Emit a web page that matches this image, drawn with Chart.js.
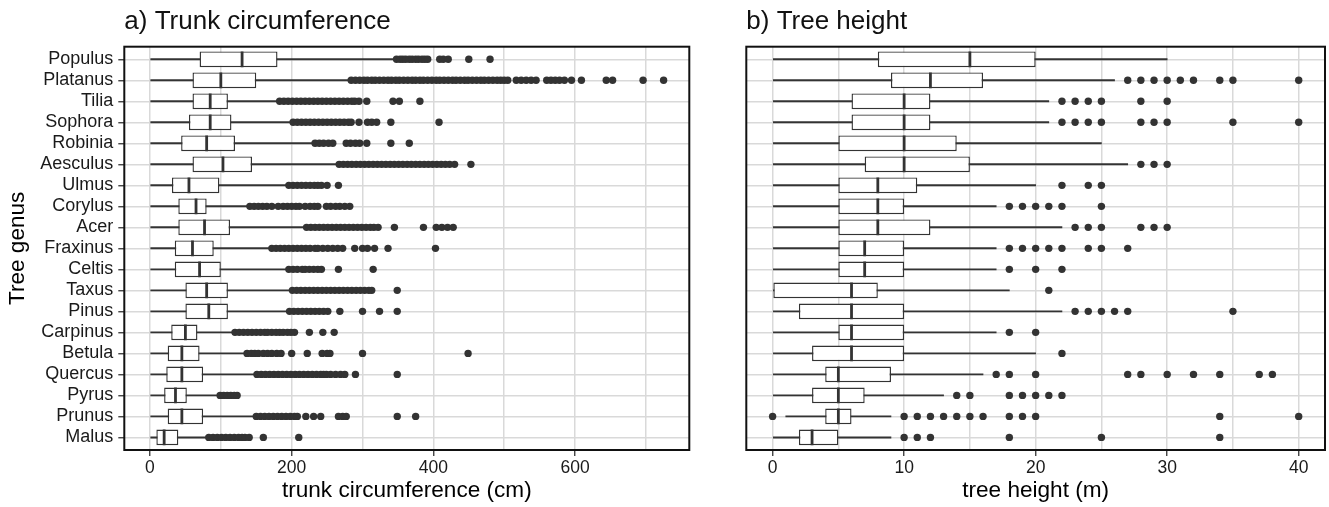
<!DOCTYPE html>
<html>
<head>
<meta charset="utf-8">
<script src="https://cdn.jsdelivr.net/npm/chart.js@4.4.1/dist/chart.umd.min.js"></script>
<style>
  html, body { margin: 0; padding: 0; background: #fff; }
  body { width: 1329px; height: 507px; position: relative; overflow: hidden; }
  .panel { position: absolute; top: 0; height: 507px; }
  #left { left: 0; width: 700px; }
  #right { left: 700px; width: 629px; }
</style>
</head>
<body>
<div class="panel" id="left"><canvas id="trunk"></canvas></div>
<div class="panel" id="right"><canvas id="height"></canvas></div>
<script>
// genera, top to bottom
const genera = ['Populus', 'Platanus', 'Tilia', 'Sophora', 'Robinia', 'Aesculus', 'Ulmus', 'Corylus', 'Acer',
  'Fraxinus', 'Celtis', 'Taxus', 'Pinus', 'Carpinus', 'Betula', 'Quercus', 'Pyrus', 'Prunus', 'Malus'];

// a) trunk circumference (cm)
const trunkTicks = [0, 200, 400, 600];
const trunkMinorTicks = [100, 300, 500, 700];
const trunkLow = [0, 0, 0, 0, 0, 0, 0, 0, 0, 0, 0, 0, 0, 0, 0, 0, 0, 0, 0];
const trunkQ1 = [70, 60, 60, 55, 44, 60, 31, 40, 40, 35, 35, 50, 50, 30, 25, 23, 20, 25, 9];
const trunkMedian = [130, 100, 85, 85, 80, 103, 55, 65, 77, 60, 70, 80, 83, 50, 45, 45, 36, 45, 20];
const trunkQ3 = [180, 150, 110, 115, 120, 144, 98, 80, 113, 90, 100, 110, 110, 67, 70, 75, 52, 75, 40];
const trunkHigh = [343, 284, 183, 202, 233, 267, 196, 141, 221, 172, 196, 201, 197, 120, 137, 151, 99, 150, 83];
const trunkOutliers = [
  [348, 353, 357, 361, 366, 370, 375, 379, 384, 388, 392, 409, 414, 421, 450, 480],
  [284, 290, 296, 302, 307, 313, 318, 324, 330, 336, 341, 347, 352, 358, 364, 370, 375, 381, 386, 392, 398, 404,
   409, 415, 421, 427, 432, 438, 444, 449, 455, 461, 467, 472, 478, 484, 490, 495, 500, 505, 517, 524, 531, 538,
   545, 560, 566, 572, 578, 585, 595, 609, 644, 653, 696, 725],
  [183, 189, 195, 201, 207, 213, 219, 225, 231, 237, 243, 249, 255, 261, 267, 273, 279, 285, 289, 295, 306, 343, 352, 381],
  [202, 208, 214, 220, 226, 232, 238, 244, 250, 256, 262, 268, 274, 280, 284, 295, 307, 313, 320, 340, 408],
  [233, 239, 245, 252, 258, 277, 283, 290, 296, 306, 340, 366],
  [267, 273, 279, 285, 291, 297, 303, 309, 315, 321, 327, 333, 339, 345, 351, 357, 363, 369, 375, 381, 387, 393,
   399, 405, 411, 417, 423, 430, 453],
  [196, 202, 208, 214, 220, 226, 232, 237, 242, 250, 266],
  [141, 147, 153, 159, 165, 172, 181, 188, 194, 200, 206, 211, 219, 226, 232, 237, 249, 255, 262, 268, 275, 282],
  [221, 227, 233, 239, 245, 251, 257, 263, 269, 275, 281, 287, 293, 299, 305, 311, 316, 322, 345, 386, 404, 412, 420, 428],
  [172, 178, 184, 190, 196, 202, 208, 214, 220, 226, 233, 237, 244, 251, 258, 265, 272, 289, 300, 307, 317, 336, 403],
  [196, 202, 208, 215, 219, 225, 231, 237, 242, 266, 315],
  [201, 207, 213, 219, 225, 231, 237, 243, 249, 255, 261, 267, 273, 279, 285, 291, 297, 303, 309, 313, 349],
  [197, 203, 209, 215, 221, 227, 233, 239, 245, 251, 268, 300, 324, 349],
  [120, 126, 132, 138, 144, 150, 156, 162, 166, 172, 178, 183, 188, 194, 199, 204, 225, 244, 260],
  [137, 143, 148, 153, 160, 166, 172, 179, 185, 200, 222, 243, 250, 254, 300, 449],
  [151, 157, 163, 169, 175, 181, 187, 193, 199, 205, 211, 217, 223, 229, 235, 241, 245, 249, 255, 262, 269, 275, 290, 349],
  [99, 104, 109, 114, 119, 123],
  [150, 156, 162, 168, 174, 180, 186, 192, 198, 204, 208, 220, 231, 241, 266, 272, 277, 349, 375],
  [83, 89, 95, 101, 107, 113, 119, 125, 130, 134, 140, 160, 210]
];

// b) tree height (m)
const heightTicks = [0, 10, 20, 30, 40];
const heightMinorTicks = [5, 15, 25, 35];
const heightLow = [0, 0, 0, 0, 0, 0, 0, 0, 0, 0, 0, 0, 0, 0, 0, 0, 0, 1, 0];
const heightQ1 = [8, 9, 6, 6, 5, 7, 5, 5, 5, 5, 5, 0, 2, 5, 3, 4, 3, 4, 2];
const heightMedian = [15, 12, 10, 10, 10, 10, 8, 8, 8, 7, 7, 6, 6, 6, 6, 5, 5, 5, 3];
const heightQ3 = [20, 16, 12, 12, 14, 15, 11, 10, 12, 10, 10, 8, 10, 10, 10, 9, 7, 6, 5];
const heightHigh = [30, 26, 21, 21, 25, 27, 20, 17, 22, 17, 17, 18, 22, 17, 20, 16, 13, 9, 9];
const heightOutliers = [
  [],
  [27, 28, 29, 30, 31, 32, 34, 35, 40],
  [22, 23, 24, 25, 28, 30],
  [22, 23, 24, 25, 28, 29, 30, 35, 40],
  [],
  [28, 29, 30],
  [22, 24, 25],
  [18, 19, 20, 21, 22, 25],
  [23, 24, 25, 28, 29, 30],
  [18, 19, 20, 21, 22, 24, 25, 27],
  [18, 20, 22],
  [21],
  [23, 24, 25, 26, 27, 35],
  [18, 20],
  [22],
  [17, 18, 20, 27, 28, 30, 32, 34, 37, 38],
  [14, 15, 18, 19, 20, 21, 22],
  [0, 10, 11, 12, 13, 14, 15, 16, 18, 19, 20, 34, 40],
  [10, 11, 12, 18, 25, 34]
];

const FONT = '"Liberation Sans", Arial, Helvetica, sans-serif';
const INK = '#333333';
const GRID = '#d9d9d9';
Chart.defaults.font.family = FONT;
Chart.defaults.color = '#1a1a1a';

// frame around the panel and the panel title at the left of the plot area
const panelFrame = {
  id: 'panelFrame',
  afterDatasetsDraw(chart, args, opts) {
    const { ctx, chartArea: a } = chart;
    ctx.save();
    ctx.strokeStyle = '#111';
    ctx.lineWidth = 2;
    ctx.strokeRect(a.left, a.top, a.right - a.left, a.bottom - a.top);
    ctx.fillStyle = '#111';
    ctx.font = '26px ' + FONT;
    ctx.textBaseline = 'alphabetic';
    ctx.textAlign = 'left';
    ctx.fillText(opts.text, a.left, a.top - 17.5);
    ctx.restore();
  }
};

function expand(values) {
  const lo = Math.min(...values), hi = Math.max(...values);
  const pad = (hi - lo) * 0.05;
  return [lo - pad, hi + pad];
}

function boxDatasets(low, q1, med, q3, high, outliers) {
  const halfBox = (ctx) => {
    const y = ctx.chart.scales.y;
    return Math.abs(y.getPixelForValue(0.375) - y.getPixelForValue(0));
  };
  const pts = [];
  outliers.forEach((row, i) => row.forEach(v => pts.push({ x: v, y: i })));
  return [
    {
      type: 'scatter', order: 0, data: pts,
      pointStyle: 'circle', pointRadius: 3.7, pointBorderWidth: 0,
      pointBackgroundColor: INK
    },
    {
      type: 'scatter', order: 1, data: med.map((v, i) => ({ x: v, y: i })),
      pointStyle: 'line', pointRotation: 90, pointRadius: halfBox,
      pointBorderWidth: 2.8, pointBorderColor: INK
    },
    {
      type: 'bar', order: 2, indexAxis: 'y', grouped: false,
      data: q1.map((v, i) => ({ y: i, x: [v, q3[i]] })),
      backgroundColor: '#ffffff', borderColor: INK, borderWidth: 1.4, borderSkipped: false,
      categoryPercentage: 0.75, barPercentage: 1
    },
    {
      type: 'bar', order: 3, indexAxis: 'y', grouped: false,
      data: low.map((v, i) => ({ y: i, x: [v, high[i]] })),
      backgroundColor: INK, borderWidth: 0, barThickness: 1.3
    }
  ];
}

function panel(canvasId, opt) {
  const [xmin, xmax] = expand(opt.range);
  const showY = opt.showY;
  const xTickValues = opt.ticks.concat(opt.minorTicks).sort((a, b) => a - b);
  const isMajor = (v) => opt.ticks.includes(v);
  new Chart(document.getElementById(canvasId), {
    type: 'bar',
    data: { datasets: boxDatasets(opt.low, opt.q1, opt.med, opt.q3, opt.high, opt.outliers) },
    options: {
      animation: false,
      responsive: true,
      maintainAspectRatio: false,
      layout: { padding: opt.padding },
      plugins: {
        legend: { display: false },
        tooltip: { enabled: false },
        panelFrame: { text: opt.title }
      },
      scales: {
        x: {
          type: 'linear', min: xmin, max: xmax, bounds: 'data', offset: false,
          afterBuildTicks: (s) => { s.ticks = xTickValues.map(v => ({ value: v })); },
          afterFit: (s) => { s.height = 57; },
          border: { display: false },
          grid: {
            offset: false,
            color: GRID,
            lineWidth: 1.5,
            tickLength: 6,
            tickWidth: 1.3,
            tickColor: (c) => (c.tick && isMajor(c.tick.value) ? INK : 'rgba(0,0,0,0)')
          },
          ticks: {
            padding: 2, font: { size: 17.5 }, color: '#1a1a1a', maxRotation: 0, autoSkip: false,
            callback: (v) => (isMajor(v) ? String(v) : '')
          },
          title: {
            display: true, text: opt.xTitle, color: '#000',
            font: { size: 22.6 }, padding: { top: 0, bottom: 2.5 }
          }
        },
        y: {
          type: 'linear', reverse: true, min: -0.6, max: genera.length - 0.4,
          bounds: 'data', offset: false, beginAtZero: false,
          afterBuildTicks: (s) => { s.ticks = genera.map((g, i) => ({ value: i })); },
          afterFit: (s) => { s.width = showY ? 124.3 : 0; },
          border: { display: false },
          grid: {
            offset: false, color: GRID, lineWidth: 1.5,
            drawTicks: showY, tickLength: 6, tickWidth: 1.3, tickColor: INK
          },
          ticks: {
            display: showY, padding: 5, autoSkip: false,
            font: { size: 18 }, color: '#1a1a1a',
            callback: (v) => genera[v]
          },
          title: {
            display: showY, text: 'Tree genus', color: '#000',
            font: { size: 22.6 }, padding: { top: 4.6, bottom: 0 }
          }
        }
      }
    },
    plugins: [panelFrame]
  });
}

panel('trunk', {
  title: 'a) Trunk circumference', xTitle: 'trunk circumference (cm)', showY: true,
  low: trunkLow, q1: trunkQ1, med: trunkMedian, q3: trunkQ3, high: trunkHigh, outliers: trunkOutliers,
  range: trunkLow.concat(trunkHigh, trunkOutliers.flat()),
  ticks: trunkTicks, minorTicks: trunkMinorTicks,
  padding: { top: 46.7, right: 10.7, bottom: 0, left: 0 }
});

panel('height', {
  title: 'b) Tree height', xTitle: 'tree height (m)', showY: false,
  low: heightLow, q1: heightQ1, med: heightMedian, q3: heightQ3, high: heightHigh, outliers: heightOutliers,
  range: heightLow.concat(heightHigh, heightOutliers.flat()),
  ticks: heightTicks, minorTicks: heightMinorTicks,
  padding: { top: 46.7, right: 3.7, bottom: 0, left: 46.3 }
});
</script>
</body>
</html>
